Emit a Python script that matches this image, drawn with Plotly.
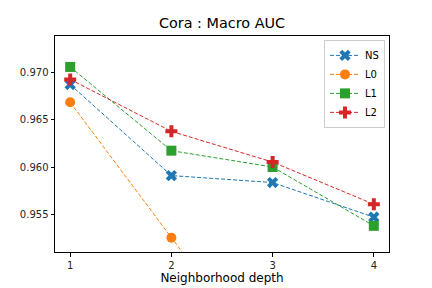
import plotly.graph_objects as go

depth = [1, 2, 3, 4]
ns = [0.9687, 0.95913, 0.9584, 0.95476]
l0 = [0.96683, 0.95259, 0.9384, 0.9300]
l1 = [0.97055, 0.96175, 0.96003, 0.95385]
l2 = [0.96924, 0.96378, 0.96055, 0.95612]

series = [
    ("NS", ns, "#1f77b4", "x"),
    ("L0", l0, "#ff7f0e", "circle"),
    ("L1", l1, "#2ca02c", "square"),
    ("L2", l2, "#d62728", "cross"),
]

fig = go.Figure()
for name, vals, color, sym in series:
    fig.add_trace(go.Scatter(
        x=depth, y=vals, name=name, mode="lines+markers",
        line=dict(color=color, width=1, dash="4px,2px"),
        marker=dict(symbol=sym, size=10, color=color, line=dict(width=0)),
        cliponaxis=True,
    ))

font = "DejaVu Sans"
fig.update_layout(
    width=432, height=288,
    margin=dict(l=55, r=43, t=36, b=36, autoexpand=False),
    paper_bgcolor="white", plot_bgcolor="white",
    font=dict(family=font, size=10, color="#262626"),
    title=dict(text="Cora : Macro AUC", x=0.5, xref="paper", xanchor="center",
               y=1 - 23 / 288, yref="container", yanchor="middle",
               font=dict(size=14.4, color="black")),
    showlegend=True,
    legend=dict(x=0.988, y=0.982, xanchor="right", yanchor="top",
                bgcolor="rgba(255,255,255,0.8)", bordercolor="#cccccc", borderwidth=1,
                font=dict(size=10, color="black"), tracegroupgap=0,
                itemwidth=30),
)
fig.update_xaxes(
    automargin=False,
    range=[0.85, 4.15], tickvals=[1, 2, 3, 4], ticktext=["1", "2", "3", "4"],
    showgrid=False, zeroline=False, showline=True, linecolor="black", linewidth=1,
    mirror=True, ticks="outside", ticklen=3.5, tickcolor="black",
    tickfont=dict(size=10, color="#262626"),
    title=dict(text="Neighborhood depth", font=dict(size=12, color="black"), standoff=4),
)
fig.update_yaxes(
    automargin=False,
    range=[0.9511, 0.9738], tickvals=[0.955, 0.960, 0.965, 0.970],
    ticktext=["0.955", "0.960", "0.965", "0.970"],
    showgrid=False, zeroline=False, showline=True, linecolor="black", linewidth=1,
    mirror=True, ticks="outside", ticklen=3.5, tickcolor="black",
    tickfont=dict(size=10, color="#262626"),
)
fig.write_html("out.html", config={"displayModeBar": False},
               post_script="document.body.style.margin='0';document.body.style.overflow='hidden';")
